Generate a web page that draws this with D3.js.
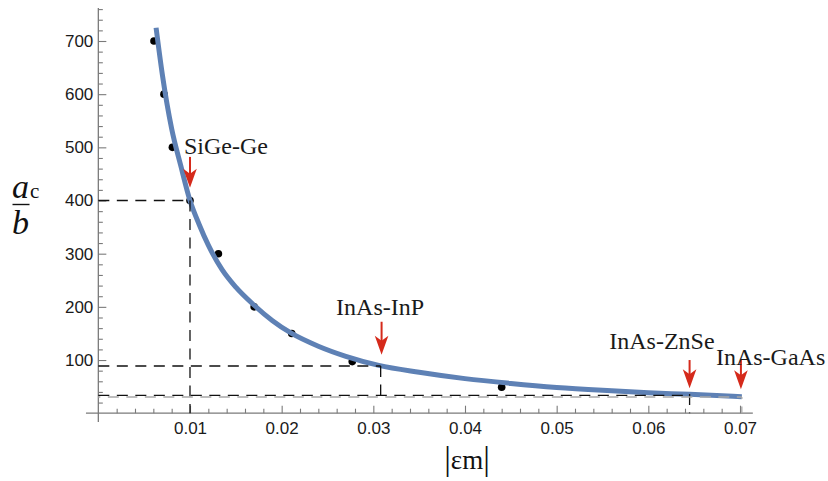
<!DOCTYPE html>
<html><head><meta charset="utf-8">
<script src="https://cdn.jsdelivr.net/npm/d3@7"></script>
<style>body{margin:0;background:#fff}</style>
</head><body>
<svg id="c" width="828" height="481"></svg>
<script>
// ---- data ----
const pointEps = [0.00607, 0.00716, 0.00808, 0.0100, 0.0131, 0.0170, 0.0211, 0.0277, 0.0440];
const pointVal = [700, 600, 500, 400, 300, 200, 150, 97, 49];

const curveEps = [0.0063, 0.0070, 0.0080, 0.0090, 0.0100, 0.0110, 0.0120, 0.0135, 0.0150, 0.0170,
                  0.0190, 0.0210, 0.0240, 0.0270, 0.0306, 0.0350, 0.0400, 0.0450, 0.0500, 0.0550,
                  0.0600, 0.0645, 0.0702];
const curveVal = [725, 635, 535, 465, 400, 355, 316, 270, 237, 203,
                  174, 151, 126, 107, 90, 77, 65, 56, 48.5, 43,
                  38.5, 35.5, 31];

const yMajorTicks = [100, 200, 300, 400, 500, 600, 700];
const yMinorTicks = [20,40,60,80,120,140,160,180,220,240,260,280,320,340,360,380,420,440,460,480,
                     520,540,560,580,620,640,660,680,720,740,760];
const xMajorTicks = [0.01, 0.02, 0.03, 0.04, 0.05, 0.06, 0.07];
const xMinorTicks = [0.002,0.004,0.006,0.008,0.012,0.014,0.016,0.018,0.022,0.024,0.026,0.028,
                     0.032,0.034,0.036,0.038,0.042,0.044,0.046,0.048,0.052,0.054,0.056,0.058,
                     0.062,0.064,0.066,0.068];

const materials   = ["SiGe-Ge", "InAs-InP", "InAs-ZnSe", "InAs-GaAs"];
const arrowEps    = [0.0100, 0.0309, 0.0645, 0.0701];
const arrowTopVal = [482, 172, 100, 100];
const arrowTipVal = [424, 110, 47, 45];

// reference (dashed) segments in data units
const refX1 = [0,      0.0100, 0,      0.0308, 0,      0.0645, 0,      0.0702];
const refY1 = [400,    400,    88.8,   88.8,   33.7,   36,     30.5,   30.5];
const refX2 = [0.0100, 0.0100, 0.0308, 0.0308, 0.0645, 0.0645, 0.0702, 0.0702];
const refY2 = [400,    0,      88.8,   33.7,   33.7,   0,      30.5,   0];
const refGrey = [0, 0, 0, 0, 0, 0, 1, 1];

// ---- drawing ----
const svg = d3.select("#c");
const x = d3.scaleLinear().domain([0, 0.07]).range([98.33, 740]);
const y = d3.scaleLinear().domain([0, 700]).range([413.2, 41]);

const axisCol = "#7a7a7a";
const labFont = "'Liberation Sans', Arial, sans-serif";
const serif = "'Liberation Serif', 'Times New Roman', serif";

// axis lines
svg.append("line").attr("x1", x(0)).attr("x2", x(0)).attr("y1", y(-16.5)).attr("y2", y(762))
  .attr("stroke", axisCol).attr("stroke-width", 1.3);
svg.append("line").attr("x1", x(-0.00135)).attr("x2", x(0.0714)).attr("y1", y(0)).attr("y2", y(0))
  .attr("stroke", axisCol).attr("stroke-width", 1.3);

// y axis ticks
const gy = svg.append("g").attr("transform", `translate(${x(0)},0)`);
gy.call(d3.axisLeft(y).tickValues(yMinorTicks).tickSizeInner(-4.5).tickSizeOuter(0).tickFormat(""));
gy.append("g").call(d3.axisLeft(y).tickValues(yMajorTicks).tickSizeInner(-8).tickSizeOuter(0).tickPadding(5));
gy.selectAll(".domain").remove();
gy.selectAll("line").attr("stroke", axisCol).attr("stroke-width", 1.1);
gy.selectAll("text").attr("font-family", labFont).attr("font-size", 17).attr("fill", "#1a1a1a");

// x axis ticks
const gx = svg.append("g").attr("transform", `translate(0,${y(0)})`);
gx.call(d3.axisBottom(x).tickValues(xMinorTicks).tickSizeInner(-4.5).tickSizeOuter(0).tickFormat(""));
gx.append("g").call(d3.axisBottom(x).tickValues(xMajorTicks).tickSizeInner(-7.5).tickSizeOuter(0)
  .tickPadding(9).tickFormat(d3.format(".2f")));
gx.selectAll(".domain").remove();
gx.selectAll("line").attr("stroke", axisCol).attr("stroke-width", 1.1);
gx.selectAll("text").attr("font-family", labFont).attr("font-size", 17).attr("fill", "#1a1a1a");

// data points (under the curve)
svg.append("g").selectAll("circle").data(pointEps).join("circle")
  .attr("cx", d => x(d)).attr("cy", (d, i) => y(pointVal[i])).attr("r", 3.8).attr("fill", "#000");

// fitted curve
const line = d3.line().x(d => x(d[0])).y(d => y(d[1])).curve(d3.curveMonotoneX);
svg.append("path").datum(curveEps.map((e, i) => [e, curveVal[i]]))
  .attr("d", line).attr("fill", "none").attr("stroke", "#5E81B5").attr("stroke-width", 5)
  .attr("stroke-linecap", "butt");

// dashed reference lines
svg.append("g").selectAll("line").data(refX1).join("line")
  .attr("x1", d => x(d)).attr("y1", (d, i) => y(refY1[i]))
  .attr("x2", (d, i) => x(refX2[i])).attr("y2", (d, i) => y(refY2[i]))
  .attr("stroke", (d, i) => refGrey[i] ? "#a8a8a8" : "#111")
  .attr("stroke-width", 1.3)
  .attr("stroke-dasharray", "11,7.5")
  .attr("stroke-dashoffset", (d, i) => refGrey[i] ? 9 : 0);

// red arrows
const red = "#d52a1b";
const ga = svg.append("g");
arrowEps.forEach((e, i) => {
  const ax = x(e), yt = y(arrowTopVal[i]), yp = y(arrowTipVal[i]);
  ga.append("line").attr("x1", ax).attr("x2", ax).attr("y1", yt).attr("y2", yp - 12)
    .attr("stroke", red).attr("stroke-width", 2);
  ga.append("path")
    .attr("d", `M${ax},${yp} L${ax - 6.8},${yp - 19} L${ax},${yp - 14} L${ax + 6.8},${yp - 19} Z`)
    .attr("fill", red);
});

// material labels
const labDx = [-6, -1.5, 25, -25];
const labAnchor = ["start", "middle", "end", "start"];
const labDy = [-3, -7, -11, 5];
materials.forEach((m, i) => {
  svg.append("text").attr("x", x(arrowEps[i]) + labDx[i]).attr("y", y(arrowTopVal[i]) + labDy[i])
    .attr("text-anchor", labAnchor[i]).attr("font-family", serif).attr("font-size", 24)
    .attr("fill", "#1a1a1a").text(m);
});

// axis titles
const yt = svg.append("g");
yt.append("text").attr("x", 12).attr("y", 198).attr("font-family", serif).attr("font-size", 34)
  .attr("font-style", "italic").attr("fill", "#111").text("a")
  .append("tspan").attr("font-style", "normal").attr("font-size", 21).attr("dx", 1).text("c");
yt.append("line").attr("x1", 12.5).attr("x2", 29.5).attr("y1", 204.5).attr("y2", 204.5)
  .attr("stroke", "#111").attr("stroke-width", 1.4);
yt.append("text").attr("x", 12).attr("y", 234).attr("font-family", serif).attr("font-size", 34)
  .attr("font-style", "italic").attr("fill", "#111").text("b");

const xtitle = svg.append("text").attr("x", 467).attr("y", 470).attr("text-anchor", "middle")
  .attr("font-family", serif).attr("fill", "#111");
xtitle.append("tspan").attr("font-size", 33).attr("font-weight", 300).text("|");
xtitle.append("tspan").attr("font-size", 27).attr("dy", -1).text("εm");
xtitle.append("tspan").attr("font-size", 33).attr("dy", 1).text("|");
</script>
</body></html>
